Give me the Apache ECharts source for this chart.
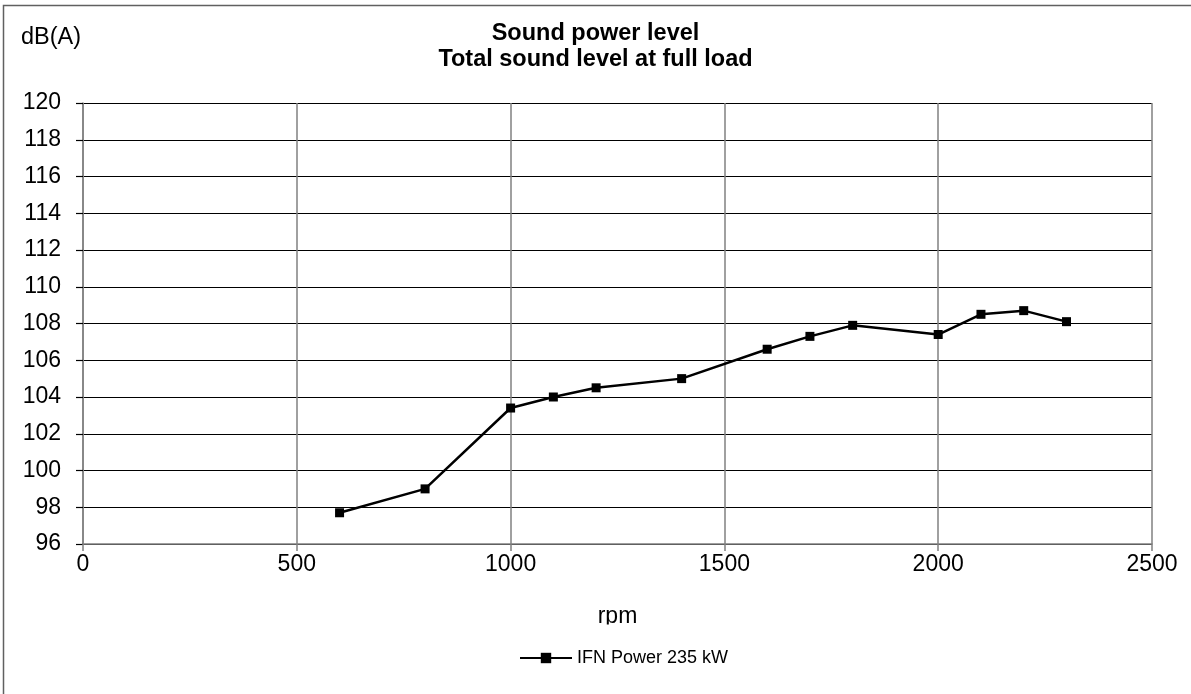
<!DOCTYPE html>
<html>
<head>
<meta charset="utf-8">
<script src="https://cdn.jsdelivr.net/npm/echarts@6/dist/echarts.min.js"></script>
<style>
html,body{margin:0;padding:0;background:#fff;}
#c{width:1191px;height:694px;}
</style>
</head>
<body>
<div id="c"></div>
<script>
const rpm = [600, 800, 1000, 1100, 1200, 1400, 1600, 1700, 1800, 2000, 2100, 2200, 2300];
const soundLevel = [97.7, 99.0, 103.4, 104.0, 104.5, 105.0, 106.6, 107.3, 107.9, 107.4, 108.5, 108.7, 108.1];
const seriesName = 'IFN Power 235 kW';
const titleLines = ['Sound power level', 'Total sound level at full load'];
const yUnit = 'dB(A)';
const xName = 'rpm';

const font = '"Liberation Sans", Arial, sans-serif';
const chart = echarts.init(document.getElementById('c'), null, {renderer: 'canvas'});
chart.setOption({
  animation: false,
  backgroundColor: '#fff',
  title: {
    text: titleLines.join('\n'),
    left: 'center',
    top: 21,
    padding: 0,
    textStyle: {fontFamily: font, fontSize: 23.5, fontWeight: 'bold', color: '#000', lineHeight: 26}
  },
  grid: {left: 83, right: 39, top: 103, bottom: 150, containLabel: false},
  legend: {
    data: [seriesName],
    left: 519,
    top: 649,
    padding: 0,
    itemWidth: 52,
    itemHeight: 13,
    itemGap: 6,
    textStyle: {fontFamily: font, fontSize: 18, color: '#000'}
  },
  xAxis: {
    type: 'value',
    min: 0, max: 2500, interval: 500,
    name: xName,
    nameLocation: 'middle',
    nameGap: 61,
    nameTextStyle: {fontFamily: font, fontSize: 23, color: '#000'},
    axisLine: {show: true, lineStyle: {color: '#808080', width: 1.5}},
    axisTick: {show: true, inside: false, length: 7, lineStyle: {color: '#808080', width: 1.5}},
    axisLabel: {fontFamily: font, fontSize: 23, color: '#000', margin: 9, formatter: v => String(v)},
    splitLine: {show: true, lineStyle: {color: '#808080', width: 1.5}}
  },
  yAxis: {
    type: 'value',
    min: 96, max: 120, interval: 2,
    axisLine: {show: true, lineStyle: {color: '#808080', width: 1.5}},
    axisTick: {show: true, inside: false, length: 7, lineStyle: {color: '#000', width: 1.2}},
    axisLabel: {fontFamily: font, fontSize: 23, color: '#000', margin: 22, formatter: v => String(v)},
    splitLine: {show: true, lineStyle: {color: '#000', width: 1.2}}
  },
  graphic: [
    {type: 'rect', z: -10, silent: true, shape: {x: 3.5, y: 5.5, width: 1200, height: 700}, style: {fill: 'none', stroke: '#606060', lineWidth: 1.5}},
    {type: 'text', left: 21, top: 26, style: {text: yUnit, font: '23.5px ' + font, fill: '#000'}},
    {type: 'rect', z: 100, silent: true, shape: {x: 585, y: 624.5, width: 70, height: 18}, style: {fill: '#fff'}}
  ],
  series: [{
    name: seriesName,
    type: 'line',
    data: rpm.map((r, i) => [r, soundLevel[i]]),
    symbol: 'rect',
    symbolSize: 9,
    lineStyle: {color: '#000', width: 2.5},
    itemStyle: {color: '#000'},
    z: 5
  }]
});
</script>
</body>
</html>
